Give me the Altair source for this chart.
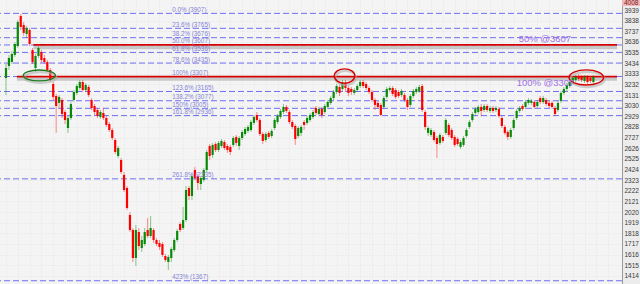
import altair as alt
import pandas as pd

# ---- candle data (price units) ----
opens = [3293,3407,3445,3512,3597,3882,3797,3711,3749,3559,
         3388,3502,3540,3483,3445,3369,3236,3122,3056,3084,
         2970,2818,2913,3084,3151,3198,3255,3179,3208,3084,
         3027,2989,2923,2961,2913,2856,2799,2704,2552,2514,
         2372,2248,1992,1849,1583,1830,1678,1716,1849,1792,
         1849,1754,1726,1716,1602,1545,1583,1659,1754,1906,
         1868,1944,2248,2172,2419,2362,2286,2324,2419,2647,
         2562,2666,2609,2647,2685,2647,2638,2657,2733,2647,
         2723,2761,2790,2799,2866,2942,2894,2761,2704,2771,
         2742,2818,2875,2923,2970,3018,2970,2875,2837,2742,
         2771,2875,2866,2894,2923,3008,2951,2999,2970,3018,
         3056,3103,3160,3208,3189,3246,3198,3189,3151,3179,
         3217,3255,3236,3198,3160,3084,3056,3037,3018,3113,
         3179,3198,3179,3160,3132,3132,3084,3037,3122,3160,
         3170,3217,2970,2771,2752,2780,2723,2676,2733,2771,
         2847,2799,2733,2714,2638,2657,2742,2828,2894,2961,
         2970,3018,2989,3027,2980,3008,2989,2999,2913,2828,
         2780,2733,2818,2913,2980,3027,3018,3056,3056,3065,
         3027,3103,3065,3084,3056,3056,3008,2989,3075,3151,
         3189,3217,3255,3274,3312,3303,3265,3303,3293,3255]
closes = [3388,3483,3521,3616,3825,3778,3721,3768,3616,3445,
          3502,3578,3464,3445,3369,3274,3113,3027,3113,2951,
          2894,2913,3046,3160,3217,3255,3179,3227,3132,3008,
          2970,2932,2970,2913,2847,2799,2723,2590,2628,2400,
          2229,2058,1849,1583,1849,1697,1754,1830,1792,1868,
          1754,1716,1688,1612,1564,1593,1669,1754,1840,1849,
          1944,2229,2172,2362,2343,2296,2343,2419,2590,2552,
          2657,2609,2676,2695,2628,2609,2590,2723,2676,2723,
          2780,2809,2828,2875,2923,2894,2761,2695,2761,2733,
          2790,2894,2932,2980,3018,2980,2875,2828,2714,2818,
          2828,2847,2913,2942,2970,2961,2999,2942,3027,3065,
          3103,3160,3217,3151,3246,3198,3151,3160,3179,3217,
          3255,3217,3198,3160,3084,3037,3018,2942,3103,3189,
          3198,3141,3113,3122,3170,3084,3018,3122,3170,3189,
          3208,2989,2828,2818,2799,2704,2666,2752,2695,2894,
          2752,2723,2657,2666,2685,2723,2799,2875,2951,2999,
          3018,2980,3027,2989,3008,2980,3008,2932,2837,2771,
          2733,2799,2894,2980,3008,2999,3065,3084,3075,3018,
          3065,3065,3103,3046,3027,3018,2951,3056,3151,3189,
          3227,3255,3293,3303,3284,3274,3303,3255,3265,3303]
highs = [3426,3512,3550,3635,3844,3901,3825,3787,3768,3578,
         3521,3597,3559,3512,3464,3388,3255,3141,3132,3103,
         2989,2932,3065,3179,3236,3274,3274,3246,3227,3103,
         3046,3008,2989,3008,2932,2875,2818,2723,2647,2533,
         2400,2267,2020,1868,1897,1868,1792,1868,1963,1982,
         1868,1773,1754,1735,1621,1612,1688,1773,1859,1925,
         2068,2267,2267,2381,2448,2381,2362,2438,2609,2666,
         2676,2685,2695,2714,2704,2666,2657,2742,2752,2742,
         2799,2828,2847,2894,2942,2970,2913,2780,2780,2790,
         2809,2913,2951,2999,3046,3037,2989,2894,2856,2837,
         2847,2894,2932,2961,2989,3027,3018,3018,3046,3084,
         3122,3179,3236,3227,3274,3274,3217,3208,3198,3236,
         3274,3274,3255,3217,3179,3103,3075,3056,3122,3208,
         3217,3217,3198,3179,3189,3151,3103,3141,3189,3208,
         3227,3236,2989,2837,2818,2799,2742,2771,2752,2913,
         2866,2818,2752,2733,2704,2742,2818,2894,2970,3018,
         3037,3046,3046,3046,3027,3027,3027,3018,2932,2847,
         2799,2818,2913,2999,3027,3046,3084,3103,3094,3084,
         3084,3122,3122,3103,3075,3075,3027,3075,3170,3208,
         3246,3274,3312,3322,3331,3322,3322,3322,3312,3322]
lows = [3132,3369,3426,3493,3578,3749,3692,3673,3597,3426,
        3350,3483,3436,3426,3350,3255,3084,2771,3008,2913,
        2856,2771,2894,3065,3132,3179,3160,3160,3113,2989,
        2942,2913,2904,2894,2828,2780,2704,2571,2533,2381,
        2210,2039,1830,1545,1507,1659,1640,1697,1773,1773,
        1726,1697,1659,1593,1545,1469,1545,1640,1735,1830,
        1849,1925,2134,2134,2324,2229,2229,2305,2400,2514,
        2533,2590,2590,2628,2609,2581,2562,2638,2647,2609,
        2704,2742,2771,2780,2847,2875,2742,2666,2685,2714,
        2723,2799,2856,2904,2951,2961,2856,2809,2657,2723,
        2742,2799,2847,2875,2904,2942,2932,2913,2951,2999,
        3037,3084,3141,3122,3170,3160,3122,3132,3132,3160,
        3198,3198,3179,3141,3065,2989,2999,2932,2999,3094,
        3160,3122,3094,3103,3113,3065,2989,3018,3103,3141,
        3151,2970,2799,2742,2733,2685,2533,2657,2676,2752,
        2733,2704,2638,2647,2619,2638,2723,2809,2875,2942,
        2951,2932,2970,2970,2961,2961,2970,2913,2818,2752,
        2704,2714,2799,2894,2961,2980,2999,3037,3037,2999,
        3008,3046,3046,3027,3008,2999,2932,2970,3056,3132,
        3170,3198,3236,3255,3265,3255,3246,3236,3246,3236]

fib_names = ["0.0%", "23.6%", "38.2%", "50.0%", "61.8%", "78.6%", "100%",
             "123.6%", "138.2%", "150%", "161.8%", "261.8%", "423%"]
fib_prices = [3907, 3765, 3676, 3607, 3536, 3435, 3307,
              3165, 3077, 3005, 2936, 2335, 1367]
axis_ticks = [3939, 3838, 3737, 3636, 3535, 3434, 3333, 3232, 3131, 3030,
              2929, 2828, 2727, 2626, 2525, 2424, 2323, 2222, 2121, 2020,
              1919, 1818, 1717, 1616, 1515, 1414]
grid_x = list(range(0, 208, 4))

red_prices = [3607, 3307]
red_start = [9.3, 3.7]
red_end = [207, 207]
note_texts = ["50% @3607", "100% @3307"]
note_prices = [3607, 3307]
note_x = [173.7, 173.0]
label_x = 56.3
last_high_label = 4008

df = pd.DataFrame({"i": list(range(len(opens))), "open": opens, "close": closes,
                   "high": highs, "low": lows})
df["dir"] = ["up" if c >= o else "down" for o, c in zip(opens, closes)]

fib_df = pd.DataFrame({"name": fib_names, "price": fib_prices})
fib_df["label"] = [f"{n}    ({p})" for n, p in zip(fib_names, fib_prices)]
fib_df["lx"] = label_x

red_df = pd.DataFrame({"price": red_prices, "x0": red_start, "x1": red_end})

XS = alt.Scale(domain=[-1 / 3, 207], nice=False, zero=False)
YS = alt.Scale(domain=[1336, 4034], nice=False, zero=False)
col = alt.Color("dir:N", scale=alt.Scale(domain=["up", "down"], range=["#078a07", "#ff0000"]), legend=None)

XAX = alt.Axis(grid=True, values=grid_x, labels=False, ticks=False, domain=False, title=None,
               gridColor="#e4e4e4", gridDash=[1, 2], gridWidth=1)
YAX = alt.Axis(orient="right", values=axis_ticks, title=None, format="d", labelOverlap=False,
               grid=True, gridColor="#e4e4e4", gridDash=[1, 2], ticks=False, labelFontSize=6.5,
               labelColor="#3a3a3a", labelPadding=2, labelFont="Liberation Sans",
               domainColor="#9a9a9a", domainWidth=1)


def X(f):
    return alt.X(f, scale=XS, axis=XAX)


def Y(f):
    return alt.Y(f, scale=YS, axis=YAX)


base = alt.Chart(df)

fib_lines = alt.Chart(fib_df).mark_rule(color="#6f6ff5", strokeDash=[6, 3], strokeWidth=1).encode(
    y=Y("price:Q"))

fib_labels = alt.Chart(fib_df).mark_text(align="left", baseline="alphabetic", dy=-1.5,
                                         fontSize=6.3, color="#8484d4", font="Liberation Sans").encode(
    x=X("lx:Q"), y=Y("price:Q"), text="label:N")

red_shadow = alt.Chart(red_df).mark_rule(color="#bdbdbd", strokeWidth=3.5, yOffset=2.5, opacity=0.8).encode(
    x=X("x0:Q"), x2="x1:Q", y=Y("price:Q"))
red_lines = alt.Chart(red_df).mark_rule(color="#d40000", strokeWidth=1.8).encode(
    x=X("x0:Q"), x2="x1:Q", y=Y("price:Q"))

wicks = base.mark_rule(strokeWidth=1, opacity=0.45).encode(
    x=X("i:Q"), y=Y("low:Q"), y2="high:Q", color=col)
bodies = base.mark_bar(size=2.2).encode(
    x=X("i:Q"), y=Y("open:Q"), y2="close:Q", color=col)


def ell(r):
    k = 0.552
    return (f"M-1,0C-1,{-k*r:.3f},{-k:.3f},{-r},0,{-r}C{k},{-r},1,{-k*r:.3f},1,0"
            f"C1,{k*r:.3f},{k},{r},0,{r}C{-k},{r},-1,{k*r:.3f},-1,0Z")


ell_specs = [
    (11.3, 3317, 0.34, 1024, "#1d7a1d"),
    (114.7, 3312, 0.70, 420, "#d40000"),
    (196.6, 3298, 0.44, 1190, "#d40000"),
]
ell_layers = []
for cx, cy, r, sz, c in ell_specs:
    edf = pd.DataFrame({"cx": [cx], "cy": [cy]})
    ell_layers.append(alt.Chart(edf).mark_point(shape=ell(r), size=sz, filled=False, color="#b0b0b0",
                                                strokeWidth=2.2, opacity=0.6, xOffset=1, yOffset=2).encode(
        x=X("cx:Q"), y=Y("cy:Q")))
    ell_layers.append(alt.Chart(edf).mark_point(shape=ell(r), size=sz, filled=False, color=c,
                                                strokeWidth=1.4, opacity=1).encode(
        x=X("cx:Q"), y=Y("cy:Q")))

note_df = pd.DataFrame({"t": note_texts, "p": note_prices, "x": note_x})
note_top = alt.Chart(note_df.iloc[[0]]).mark_text(align="left", baseline="bottom", dy=-1, fontSize=9.5,
                                                  color="#a070e6", font="Liberation Sans").encode(
    x=X("x:Q"), y=Y("p:Q"), text="t:N")
note_bot = alt.Chart(note_df.iloc[[1]]).mark_text(align="left", baseline="top", dy=1, fontSize=9.5,
                                                  color="#a070e6", font="Liberation Sans").encode(
    x=X("x:Q"), y=Y("p:Q"), text="t:N")

hl_df = pd.DataFrame({"p": [last_high_label], "t": [str(last_high_label)]})
hl_box = alt.Chart(hl_df).mark_rect(color="#f2b8b8").encode(
    x=alt.value(622), x2=alt.value(640), y=alt.value(-4), y2=alt.value(6))
hl_text = alt.Chart(hl_df).mark_text(align="left", baseline="middle", fontSize=6.5, color="#7a2020",
                                     font="Liberation Sans").encode(
    x=alt.value(624), y=Y("p:Q"), text="t:N")

chart = alt.layer(fib_lines, red_shadow, red_lines, wicks, bodies, *ell_layers,
                  fib_labels, note_top, note_bot, hl_box, hl_text).properties(
    width=622, height=284, background="#ececec",
    padding={"left": 0, "top": 0, "right": 18, "bottom": 0},
    autosize=alt.AutoSizeParams(type="none"),
).configure_view(fill="#f4f4f4", stroke=None).configure_axis(labelOverlap=False)

chart.save("out.html", embed_options={"renderer": "svg", "actions": False})
